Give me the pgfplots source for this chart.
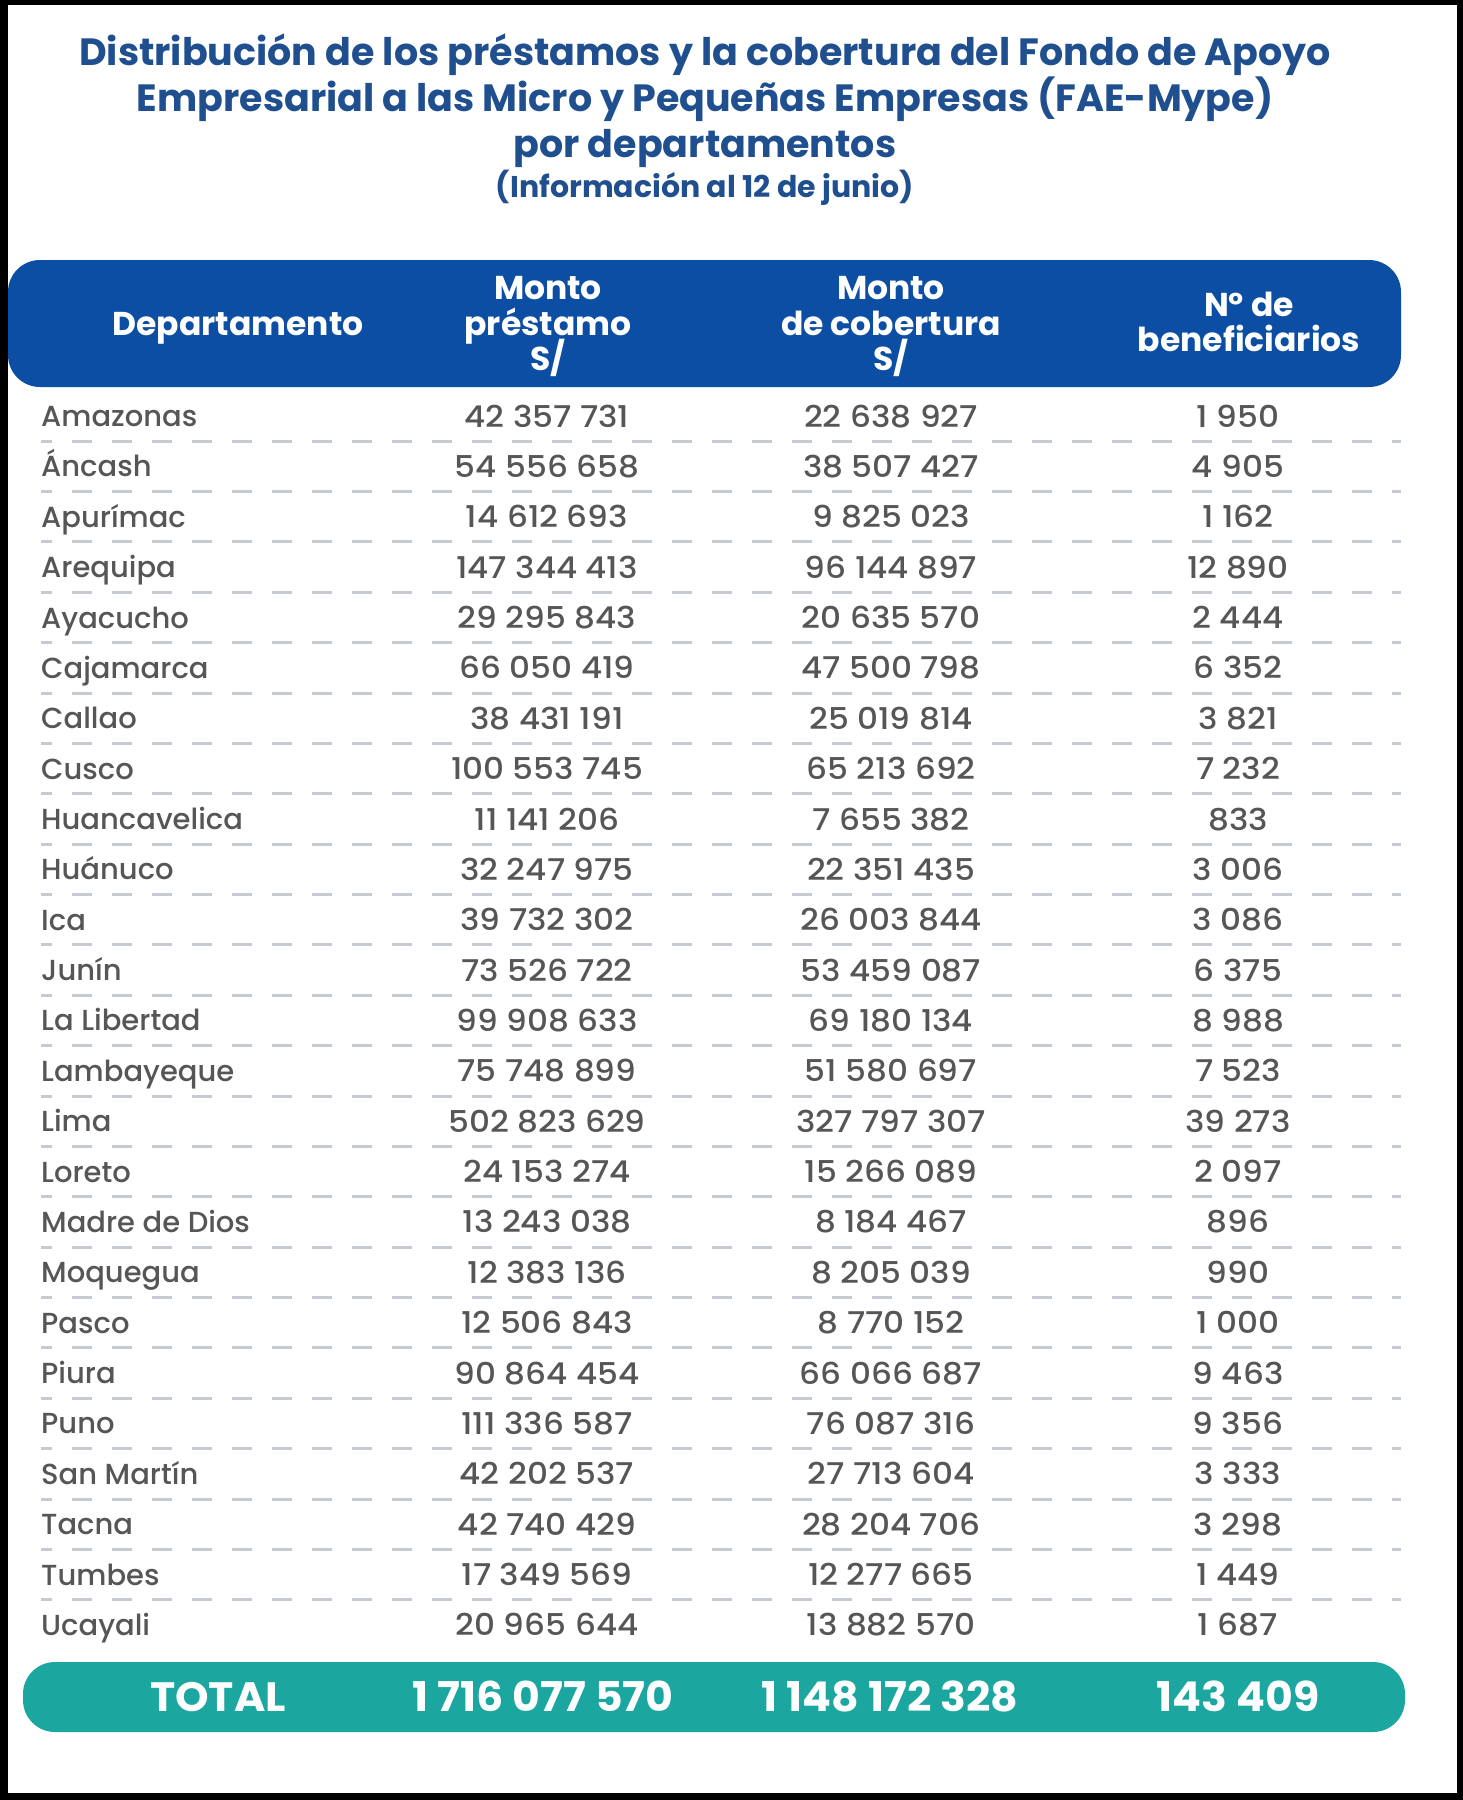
\documentclass[border=0pt]{standalone}
\usepackage{fontspec}
\setmainfont{Poppins}
\newfontfamily\pmed{Poppins Medium}
\newfontfamily\pnum[FakeStretch=1.09]{Poppins Medium}
\newfontfamily\ptot[FakeStretch=1.04]{Poppins Bold}
\usepackage{pgfplots}
\usepackage{pgfplotstable}
\pgfplotsset{compat=1.18}
\definecolor{titleblue}{HTML}{1F4F8F}
\definecolor{headblue}{HTML}{0B4EA3}
\definecolor{totalteal}{HTML}{1BA69F}
\definecolor{rowgray}{HTML}{565656}
\definecolor{dashgray}{HTML}{C6CBD2}

\pgfplotstableread[col sep=comma]{
y,dept,prestamo,cobertura,benef
416.0,Amazonas,42 357 731,22 638 927,1 950
466.4,Áncash,54 556 658,38 507 427,4 905
516.7,Apurímac,14 612 693,9 825 023,1 162
567.1,Arequipa,147 344 413,96 144 897,12 890
617.5,Ayacucho,29 295 843,20 635 570,2 444
667.9,Cajamarca,66 050 419,47 500 798,6 352
718.2,Callao,38 431 191,25 019 814,3 821
768.6,Cusco,100 553 745,65 213 692,7 232
819.0,Huancavelica,11 141 206,7 655 382,833
869.3,Huánuco,32 247 975,22 351 435,3 006
919.7,Ica,39 732 302,26 003 844,3 086
970.1,Junín,73 526 722,53 459 087,6 375
1020.4,La Libertad,99 908 633,69 180 134,8 988
1070.8,Lambayeque,75 748 899,51 580 697,7 523
1121.2,Lima,502 823 629,327 797 307,39 273
1171.5,Loreto,24 153 274,15 266 089,2 097
1221.9,Madre de Dios,13 243 038,8 184 467,896
1272.3,Moquegua,12 383 136,8 205 039,990
1322.7,Pasco,12 506 843,8 770 152,1 000
1373.0,Piura,90 864 454,66 066 687,9 463
1423.4,Puno,111 336 587,76 087 316,9 356
1473.8,San Martín,42 202 537,27 713 604,3 333
1524.1,Tacna,42 740 429,28 204 706,3 298
1574.5,Tumbes,17 349 569,12 277 665,1 449
1624.9,Ucayali,20 965 644,13 882 570,1 687
}\rows

\begin{document}
\begin{tikzpicture}
\begin{axis}[scale only axis, width=1463pt, height=1800pt,
  xmin=0, xmax=1463, ymin=0, ymax=1800, y dir=reverse,
  hide axis, clip=false,
  txt/.style={only marks, mark=text, text mark={},
    nodes near coords, point meta=explicit symbolic}]
% frame
\fill[black] (axis cs:0,0) rectangle (axis cs:1463,1800);
\fill[white] (axis cs:8,5) rectangle (axis cs:1457,1793);
% title
\begin{scope}[every node/.style={anchor=base, text=titleblue, font=\bfseries\fontsize{38}{44}\selectfont, inner sep=0pt}]
\node at (axis cs:705,65) {Distribución de los préstamos y la cobertura del Fondo de Apoyo};
\node at (axis cs:705,111) {Empresarial a las Micro y Pequeñas Empresas (FAE-Mype)};
\node at (axis cs:705,157) {por departamentos};
\end{scope}
\node[anchor=base, text=titleblue, font=\bfseries\fontsize{30}{34}\selectfont, inner sep=0pt] at (axis cs:705,197) {(Información al 12 de junio)};
% header
\fill[headblue, rounded corners=32pt] (axis cs:8,260) rectangle (axis cs:1401,387);
\begin{scope}[every node/.style={anchor=base, text=white, font=\bfseries\fontsize{33}{38}\selectfont, inner sep=0pt}]
\node at (axis cs:238,335) {Departamento};
\node at (axis cs:548,299) {Monto};
\node at (axis cs:548,335) {préstamo};
\node at (axis cs:548,370) {S/};
\node at (axis cs:891,299) {Monto};
\node at (axis cs:891,335) {de cobertura};
\node at (axis cs:891,370) {S/};
\node at (axis cs:1249,316) {Nº de};
\node at (axis cs:1249,351) {beneficiarios};
\end{scope}
% separators
\addplot[dashgray, line width=3pt, dash pattern=on 20pt off 20pt, dash phase=9pt, unbounded coords=jump] coordinates {
(41,441.2) (1401,441.2) (0,nan)
(41,491.6) (1401,491.6) (0,nan)
(41,541.9) (1401,541.9) (0,nan)
(41,592.3) (1401,592.3) (0,nan)
(41,642.7) (1401,642.7) (0,nan)
(41,693.0) (1401,693.0) (0,nan)
(41,743.4) (1401,743.4) (0,nan)
(41,793.8) (1401,793.8) (0,nan)
(41,844.2) (1401,844.2) (0,nan)
(41,894.5) (1401,894.5) (0,nan)
(41,944.9) (1401,944.9) (0,nan)
(41,995.3) (1401,995.3) (0,nan)
(41,1045.6) (1401,1045.6) (0,nan)
(41,1096.0) (1401,1096.0) (0,nan)
(41,1146.4) (1401,1146.4) (0,nan)
(41,1196.7) (1401,1196.7) (0,nan)
(41,1247.1) (1401,1247.1) (0,nan)
(41,1297.5) (1401,1297.5) (0,nan)
(41,1347.8) (1401,1347.8) (0,nan)
(41,1398.2) (1401,1398.2) (0,nan)
(41,1448.6) (1401,1448.6) (0,nan)
(41,1499.0) (1401,1499.0) (0,nan)
(41,1549.3) (1401,1549.3) (0,nan)
(41,1599.7) (1401,1599.7)
};
% rows
\addplot[txt, nodes near coords style={anchor=base west, yshift=-10.5pt, text=rowgray, font=\pmed\fontsize{29}{34}\selectfont, inner sep=0pt}]
  table[x expr=41, y=y, meta=dept] {\rows};
\addplot[txt, nodes near coords style={anchor=base, yshift=-11pt, text=rowgray, font=\pnum\fontsize{30}{34}\selectfont, inner sep=0pt}]
  table[x expr=547, y=y, meta=prestamo] {\rows};
\addplot[txt, nodes near coords style={anchor=base, yshift=-11pt, text=rowgray, font=\pnum\fontsize{30}{34}\selectfont, inner sep=0pt}]
  table[x expr=891, y=y, meta=cobertura] {\rows};
\addplot[txt, nodes near coords style={anchor=base, yshift=-11pt, text=rowgray, font=\pnum\fontsize{30}{34}\selectfont, inner sep=0pt}]
  table[x expr=1238, y=y, meta=benef] {\rows};
% total
\fill[totalteal, rounded corners=32pt] (axis cs:23,1662) rectangle (axis cs:1405,1732);
\addplot[txt, nodes near coords style={anchor=base, yshift=-14.5pt, text=white, font=\ptot\fontsize{41}{46}\selectfont, inner sep=0pt}]
  coordinates {(218,1697) [TOTAL] (543,1697) [1 716 077 570] (890,1697) [1 148 172 328] (1238,1697) [143 409]};
\end{axis}
\end{tikzpicture}
\end{document}
